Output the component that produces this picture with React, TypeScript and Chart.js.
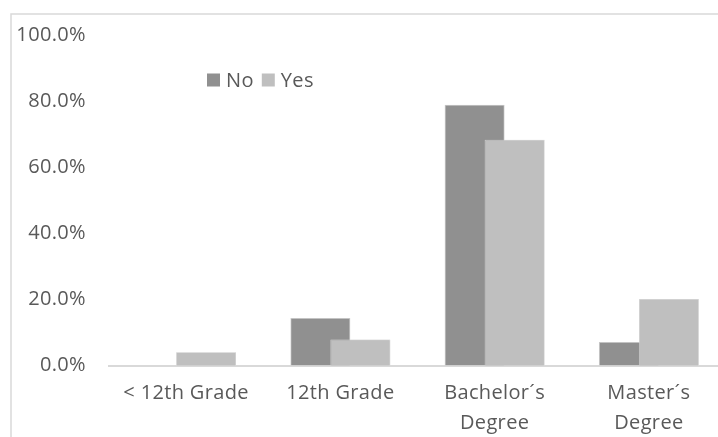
import React, { useEffect, useRef } from 'react';
import { Chart, registerables } from 'chart.js';

Chart.register(...registerables);

const categories: (string | string[])[] = ['< 12th Grade', '12th Grade', ['Bachelor´s', 'Degree'], ['Master´s', 'Degree']];
const seriesNames = ['No', 'Yes'];
const noValues = [0, 14.4, 78.9, 7.1];
const yesValues = [4.0, 7.9, 68.3, 20.1];
const yMin = 0;
const yMax = 100;
const yStep = 20;

const FONT = "'Open Sans', sans-serif";
const TEXT = '#595959';
const COLORS = ['#909090', '#bfbfbf'];
const SPACING = '0.35px';
const FSIZE = 20;

const spacingPlugin = {
  id: 'spacing',
  beforeUpdate(chart: any) { chart.ctx.letterSpacing = SPACING; },
  beforeDraw(chart: any) { chart.ctx.letterSpacing = SPACING; },
};

const framePlugin = {
  id: 'frame',
  beforeDraw(chart: any) {
    const ctx = chart.ctx;
    ctx.save();
    ctx.strokeStyle = '#d9d9d9';
    ctx.lineWidth = 1.5;
    ctx.beginPath();
    ctx.moveTo(11, chart.height);
    ctx.lineTo(11, 14);
    ctx.lineTo(chart.width, 14);
    ctx.stroke();
    ctx.restore();
  },
};

const yesOnTopPlugin = {
  id: 'yesOnTop',
  afterDatasetsDraw(chart: any) {
    const meta = chart.getDatasetMeta(1);
    if (meta && meta.controller) meta.controller.draw();
  },
};

const legendPlugin = {
  id: 'customLegend',
  afterDraw(chart: any) {
    const ctx = chart.ctx;
    ctx.save();
    ctx.letterSpacing = SPACING;
    ctx.font = `${FSIZE}px ${FONT}`;
    ctx.textBaseline = 'middle';
    ctx.textAlign = 'left';
    let x = 207;
    const cy = 80;
    chart.data.datasets.forEach((ds: any) => {
      ctx.fillStyle = ds.backgroundColor;
      ctx.fillRect(x, cy - 6.5, 13, 13);
      x += 19;
      ctx.fillStyle = TEXT;
      ctx.fillText(ds.label, x, cy + 1);
      x += ctx.measureText(ds.label).width + 8;
    });
    ctx.restore();
  },
};

export default function App() {
  const ref = useRef<HTMLCanvasElement>(null);
  useEffect(() => {
    if (!ref.current) return;
    const chart = new Chart(ref.current, {
      type: 'bar',
      data: {
        labels: categories,
        datasets: [
          { label: seriesNames[0], data: noValues, backgroundColor: COLORS[0], borderColor: '#c8c8c8', borderWidth: 0.8 },
          { label: seriesNames[1], data: yesValues, backgroundColor: COLORS[1], borderColor: '#d9d9d9', borderWidth: 0.8 },
        ],
      },
      options: {
        responsive: false,
        animation: false,
        devicePixelRatio: 1,
        categoryPercentage: 0.5186,
        barPercentage: 1.5,
        layout: { padding: { top: 31, left: 0, right: 0, bottom: 0 } },
        plugins: { legend: { display: false }, tooltip: { enabled: false } },
        scales: {
          x: {
            grid: { display: false, drawTicks: false },
            border: { display: true, color: '#d9d9d9', width: 2 },
            ticks: { color: TEXT, font: { family: FONT, size: FSIZE, lineHeight: 1.5 }, padding: 13, maxRotation: 0, autoSkip: false },
            afterFit(scale: any) { scale.height = 71.5; },
          },
          y: {
            min: yMin,
            max: yMax,
            grid: { display: false, drawTicks: false },
            border: { display: false },
            ticks: {
              stepSize: yStep,
              color: TEXT,
              font: { family: FONT, size: FSIZE },
              padding: 23,
              callback: (v: any) => Number(v).toFixed(1) + '%',
            },
            afterFit(scale: any) { scale.width = 109; },
          },
        },
      },
      plugins: [spacingPlugin, framePlugin, yesOnTopPlugin, legendPlugin],
    } as any);
    return () => chart.destroy();
  }, []);
  return (
    <div style={{ position: 'fixed', left: 0, top: 0, width: 718, height: 437, overflow: 'hidden', background: '#fff' }}>
      <canvas ref={ref} width={726} height={437} style={{ display: 'block' }} />
    </div>
  );
}
